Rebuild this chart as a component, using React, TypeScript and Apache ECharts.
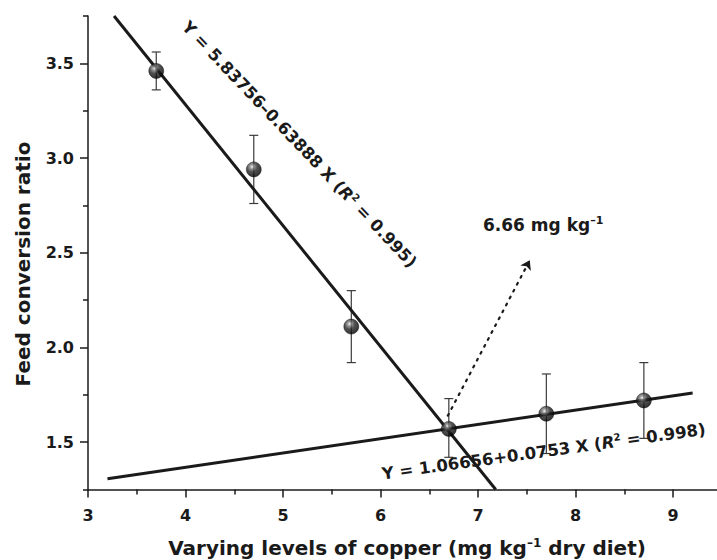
import React, { useEffect, useRef } from "react";
import * as echarts from "echarts";

const copperLevels = [3.7, 4.7, 5.7, 6.7, 7.7, 8.7];
const feedConversion = [3.46, 2.94, 2.11, 1.57, 1.65, 1.72];
const errorLow = [3.36, 2.76, 1.92, 1.42, 1.44, 1.52];
const errorHigh = [3.56, 3.12, 2.3, 1.73, 1.86, 1.92];
const fitDecline = [
  [3.267, 3.75],
  [7.181, 1.25],
];
const fitPlateau = [
  [3.2, 1.307],
  [9.2, 1.759],
];
const arrowFrom = [6.69, 1.64];
const arrowTo = [7.53, 2.46];
const xMajorTicks = [3, 4, 5, 6, 7, 8, 9];
const xMinorTicks = [3.5, 4.5, 5.5, 6.5, 7.5, 8.5];
const yMajorTicks = [1.5, 2.0, 2.5, 3.0, 3.5];
const yMinorTicks = [1.25, 1.75, 2.25, 2.75, 3.25, 3.75];

const FONT = '"DejaVu Sans", "Liberation Sans", sans-serif';
const INK = "#1a1a1a";

export default function App() {
  const ref = useRef<HTMLDivElement>(null);

  useEffect(() => {
    document.body.style.margin = "0";
    const chart = echarts.init(ref.current as HTMLDivElement, null, { renderer: "svg" });

    const points = copperLevels.map((x, i) => [x, feedConversion[i]]);
    const bars = copperLevels.map((x, i) => [x, errorLow[i], errorHigh[i]]);

    const sphere = new echarts.graphic.RadialGradient(0.38, 0.32, 0.68, [
      { offset: 0, color: "#f2f2f2" },
      { offset: 0.18, color: "#8a8a8a" },
      { offset: 0.5, color: "#262626" },
      { offset: 1, color: "#000000" },
    ]);

    const axisLineStyle = { color: INK, width: 1.5 };
    const sup = (size: number, pad: number) => ({
      fontSize: size,
      fontWeight: "bold",
      fontFamily: FONT,
      fill: INK,
      padding: [0, 0, pad, 0],
    });
    const main = (size: number) => ({
      fontSize: size,
      fontWeight: "bold",
      fontFamily: FONT,
      fill: INK,
    });
    const ital = (size: number) => ({
      fontSize: size,
      fontWeight: "bold",
      fontStyle: "italic",
      fontFamily: FONT,
      fill: INK,
    });

    const option: any = {
      animation: false,
      backgroundColor: "#ffffff",
      grid: { left: 88, top: 16, right: 0, bottom: 70.5, containLabel: false },
      xAxis: [
        {
          type: "value",
          min: 3,
          max: 9.45,
          interval: 1,
          splitLine: { show: false },
          axisLine: { show: true, onZero: false, lineStyle: axisLineStyle },
          axisTick: {
            show: true,
            length: 8,
            inside: false,
            customValues: xMajorTicks,
            lineStyle: { color: INK, width: 1.5 },
          },
          axisLabel: {
            show: true,
            customValues: xMajorTicks,
            margin: 18,
            fontSize: 16,
            fontWeight: "bold",
            fontFamily: FONT,
            color: INK,
            formatter: (v: number) => String(v),
          },
        },
        {
          type: "value",
          min: 3,
          max: 9.45,
          interval: 1,
          position: "bottom",
          splitLine: { show: false },
          axisLine: { show: false, onZero: false },
          axisTick: {
            show: true,
            length: 5,
            customValues: xMinorTicks,
            lineStyle: { color: INK, width: 1.5 },
          },
          axisLabel: { show: false },
        },
      ],
      yAxis: [
        {
          type: "value",
          min: 1.25,
          max: 3.75,
          splitLine: { show: false },
          axisLine: { show: true, onZero: false, lineStyle: axisLineStyle },
          axisTick: {
            show: true,
            length: 8,
            customValues: yMajorTicks,
            lineStyle: { color: INK, width: 1.5 },
          },
          axisLabel: {
            show: true,
            customValues: yMajorTicks,
            margin: 14,
            fontSize: 16,
            fontWeight: "bold",
            fontFamily: FONT,
            color: INK,
            formatter: (v: number) => v.toFixed(1),
          },
        },
        {
          type: "value",
          min: 1.25,
          max: 3.75,
          position: "left",
          splitLine: { show: false },
          axisLine: { show: false, onZero: false },
          axisTick: {
            show: true,
            length: 5,
            customValues: yMinorTicks,
            lineStyle: { color: INK, width: 1.5 },
          },
          axisLabel: { show: false },
        },
      ],
      series: [
        {
          type: "custom",
          name: "error",
          xAxisIndex: 0,
          yAxisIndex: 0,
          data: bars,
          encode: { x: 0, y: [1, 2] },
          silent: true,
          z: 2,
          renderItem: (params: any, api: any) => {
            const x = api.value(0);
            const lo = api.coord([x, api.value(1)]);
            const hi = api.coord([x, api.value(2)]);
            const cap = 4.5;
            const st = { stroke: "#3a3a3a", lineWidth: 1.2 };
            return {
              type: "group",
              children: [
                { type: "line", shape: { x1: lo[0], y1: lo[1], x2: hi[0], y2: hi[1] }, style: st },
                { type: "line", shape: { x1: hi[0] - cap, y1: hi[1], x2: hi[0] + cap, y2: hi[1] }, style: st },
                { type: "line", shape: { x1: lo[0] - cap, y1: lo[1], x2: lo[0] + cap, y2: lo[1] }, style: st },
              ],
            };
          },
        },
        {
          type: "line",
          name: "decline",
          data: fitDecline,
          showSymbol: false,
          symbol: "none",
          silent: true,
          clip: true,
          z: 3,
          lineStyle: { color: INK, width: 3 },
        },
        {
          type: "line",
          name: "plateau",
          data: fitPlateau,
          showSymbol: false,
          symbol: "none",
          silent: true,
          z: 3,
          lineStyle: { color: INK, width: 3 },
          markLine: {
            silent: true,
            symbol: ["none", "arrow"],
            symbolSize: 9,
            label: { show: false },
            emphasis: { disabled: true },
            lineStyle: { color: INK, width: 2.2, type: [1.8, 6], cap: "round" },
            data: [[{ coord: arrowFrom }, { coord: arrowTo }]],
          },
        },
        {
          type: "scatter",
          name: "FCR",
          data: points,
          symbol: "circle",
          symbolSize: 15,
          silent: true,
          z: 5,
          itemStyle: { color: sphere, borderColor: "#000", borderWidth: 0.5 },
        },
      ],
      graphic: [
        {
          type: "text",
          x: 185,
          y: 24,
          rotation: (-46.5 * Math.PI) / 180,
          z: 10,
          style: {
            text: "{n|Y = 5.83756–0.63888 X (}{i|R}{s|2}{n| = 0.995)}",
            align: "left",
            verticalAlign: "middle",
            rich: { n: main(16.5), i: ital(16.5), s: sup(10, 9) },
          },
        },
        {
          type: "text",
          x: 382,
          y: 474,
          rotation: (7.9 * Math.PI) / 180,
          z: 10,
          style: {
            text: "{n|Y = 1.06656+0.0753 X (}{i|R}{s|2}{n| = 0.998)}",
            align: "left",
            verticalAlign: "middle",
            rich: { n: main(16.5), i: ital(16.5), s: sup(10, 9) },
          },
        },
        {
          type: "text",
          x: 483,
          y: 225,
          z: 10,
          style: {
            text: "{n|6.66 mg kg}{s|–1}",
            align: "left",
            verticalAlign: "middle",
            rich: { n: main(17), s: sup(11, 10) },
          },
        },
        {
          type: "text",
          x: 407,
          y: 548,
          z: 10,
          style: {
            text: "{n|Varying levels of copper (mg kg}{s|–1}{n| dry diet)}",
            align: "center",
            verticalAlign: "middle",
            rich: { n: main(20), s: sup(12, 11) },
          },
        },
        {
          type: "text",
          x: 23,
          y: 264,
          rotation: Math.PI / 2,
          z: 10,
          style: {
            text: "Feed conversion ratio",
            align: "center",
            verticalAlign: "middle",
            fontSize: 20,
            fontWeight: "bold",
            fontFamily: FONT,
            fill: INK,
          },
        },
      ],
    };

    chart.setOption(option);
    return () => chart.dispose();
  }, []);

  return <div ref={ref} style={{ width: 717, height: 560 }} />;
}
